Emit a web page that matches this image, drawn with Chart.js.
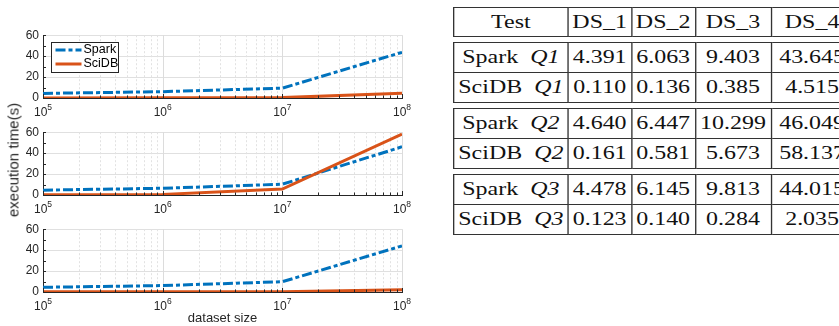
<!DOCTYPE html>
<html>
<head>
<meta charset="utf-8">
<title>Spark vs SciDB - execution time</title>
<script src="https://cdn.jsdelivr.net/npm/chart.js@4.4.0/dist/chart.umd.min.js"></script>
<style>
    body {
        margin: 0;
        width: 839px;
        height: 326px;
        overflow: hidden;
        background: #fff;
        position: relative;
    }
    .panel {
        position: absolute;
        left: 0;
    }
    #ylab {
        position: absolute;
        left: 13px;
        top: 160px;
        transform: translate(-50%, -50%) rotate(-90deg);
        font-family: 'Liberation Sans', Arial, sans-serif;
        font-size: 15px;
        color: #262626;
        white-space: nowrap;
    }
    #tbl {
        position: absolute;
        left: 453px;
        top: 7px;
        transform: scaleX(1.33);
        transform-origin: 0 0;
        font-family: 'Liberation Serif', 'DejaVu Serif', serif;
        font-size: 18px;
        color: #111;
    }
    #tbl table {
        border-collapse: collapse;
        table-layout: fixed;
        width: 300px;
        margin-bottom: 5px;
    }
    #tbl td {
        border: 1px solid #333;
        padding: 0;
        text-align: center;
        white-space: nowrap;
    }
    #tbl tr { height: 30px; }
    #tbl table.head tr { height: 29px; }
</style>
</head>
<body>
    <canvas class="panel" id="q1" width="420" height="100" style="top:24px"></canvas>
    <canvas class="panel" id="q2" width="420" height="100" style="top:121px"></canvas>
    <canvas class="panel" id="q3" width="420" height="108" style="top:218px"></canvas>
    <div id="ylab">execution time(s)</div>
    <div id="tbl"></div>

<script>
    // dataset sizes (x) and execution times in seconds
    var sizes = [1e5, 1e6, 1e7, 1e8];
    var dsLabels = ['DS_1', 'DS_2', 'DS_3', 'DS_4'];
    var queries = ['Q1', 'Q2', 'Q3'];
    var sparkQ1 = [4.391, 6.063, 9.403, 43.645];
    var scidbQ1 = [0.110, 0.136, 0.385, 4.515];
    var sparkQ2 = [4.640, 6.447, 10.299, 46.049];
    var scidbQ2 = [0.161, 0.581, 5.673, 58.137];
    var sparkQ3 = [4.478, 6.145, 9.813, 44.015];
    var scidbQ3 = [0.123, 0.140, 0.284, 2.035];
    var yTicks = [0, 20, 40, 60];
    var decades = [5, 6, 7, 8];

    var AXIS = '#262626';
    var SANS = "'Liberation Sans', Arial, sans-serif";
    Chart.defaults.font.family = SANS;

    // matlab-ish look: dotted minor grid, inward ticks, 10^n labels, boxed legend
    var matlabAxes = {
        id: 'matlab',
        beforeDatasetsDraw: function(chart) {
            var ctx = chart.ctx, a = chart.chartArea, x = chart.scales.x;
            ctx.save();
            ctx.lineWidth = 1;
            for (var e = 5; e < 8; e++) {
                for (var k = 2; k <= 10; k++) {
                    var px = Math.round(x.getPixelForValue(k * Math.pow(10, e))) + 0.5;
                    ctx.strokeStyle = k === 10 ? '#dcdcdc' : '#e2e2e2';
                    ctx.setLineDash(k === 10 ? [] : [2, 2]);
                    ctx.beginPath();
                    ctx.moveTo(px, a.top);
                    ctx.lineTo(px, a.bottom);
                    ctx.stroke();
                }
            }
            ctx.restore();
        },
        afterDraw: function(chart, args, opts) {
            var ctx = chart.ctx, a = chart.chartArea;
            var x = chart.scales.x, y = chart.scales.y;
            ctx.save();
            ctx.strokeStyle = AXIS;
            ctx.lineWidth = 1;
            // y ticks every 10, pointing inward
            for (var v = 0; v <= 60; v += 10) {
                var py = Math.round(y.getPixelForValue(v)) + 0.5;
                ctx.beginPath();
                ctx.moveTo(a.left, py);
                ctx.lineTo(a.left + 3, py);
                ctx.stroke();
            }
            // x ticks
            for (var e = 5; e < 8; e++) {
                for (var k = 1; k <= 10; k++) {
                    var px = Math.round(x.getPixelForValue(k * Math.pow(10, e))) + 0.5;
                    var len = (k === 1 || k === 10) ? 4 : 2.5;
                    ctx.beginPath();
                    ctx.moveTo(px, a.bottom);
                    ctx.lineTo(px, a.bottom - len);
                    ctx.stroke();
                }
            }
            // 10^n labels
            ctx.fillStyle = AXIS;
            ctx.textBaseline = 'alphabetic';
            ctx.textAlign = 'left';
            decades.forEach(function(n) {
                var px = x.getPixelForValue(Math.pow(10, n));
                ctx.font = '12px ' + SANS;
                var w1 = ctx.measureText('10').width;
                ctx.font = '8.5px ' + SANS;
                var w2 = ctx.measureText(String(n)).width;
                var x0 = px - (w1 + w2) / 2;
                ctx.font = '12px ' + SANS;
                ctx.fillText('10', x0, a.bottom + 18);
                ctx.font = '8.5px ' + SANS;
                ctx.fillText(String(n), x0 + w1, a.bottom + 12);
            });
            // legend box
            if (opts.legend) {
                var bx = Math.round(a.left + 8) + 0.5, by = Math.round(a.top + 7) + 0.5;
                ctx.fillStyle = '#fff';
                ctx.fillRect(bx, by, 67, 30);
                ctx.strokeRect(bx, by, 67, 30);
                chart.data.datasets.forEach(function(ds, i) {
                    var ry = by + 7.5 + i * 14;
                    ctx.save();
                    ctx.strokeStyle = ds.borderColor;
                    ctx.lineWidth = ds.borderWidth;
                    ctx.setLineDash(ds.borderDash || []);
                    ctx.beginPath();
                    ctx.moveTo(bx + 4, ry);
                    ctx.lineTo(bx + 30, ry);
                    ctx.stroke();
                    ctx.restore();
                    ctx.fillStyle = '#000';
                    ctx.font = '12.5px ' + SANS;
                    ctx.textBaseline = 'middle';
                    ctx.fillText(ds.label, bx + 32, ry);
                });
            }
            ctx.restore();
        }
    };

    function makePanel(id, spark, scidb, extra) {
        var ctx = document.getElementById(id).getContext('2d');
        var h = ctx.canvas.height;
        var xTitle = extra.xTitle || null;
        return new Chart(ctx, {
            type: 'line',
            data: {
                labels: sizes,
                datasets: [{
                    label: 'Spark',
                    data: sizes.map(function(s, i) { return {x: s, y: spark[i]}; }),
                    borderColor: '#0072BD',
                    borderWidth: 3,
                    borderDash: [10, 3, 4, 3],
                    pointRadius: 0,
                    order: 2
                }, {
                    label: 'SciDB',
                    data: sizes.map(function(s, i) { return {x: s, y: scidb[i]}; }),
                    borderColor: '#D95319',
                    borderWidth: 3,
                    pointRadius: 0,
                    order: 1
                }]
            },
            options: {
                responsive: false,
                animation: false,
                devicePixelRatio: 1,
                layout: { padding: { left: 0, right: 18, top: 7, bottom: 0 } },
                plugins: {
                    legend: { display: false },
                    tooltip: { enabled: false },
                    matlab: { legend: !!extra.legend }
                },
                scales: {
                    x: {
                        type: 'logarithmic',
                        min: sizes[0],
                        max: sizes[sizes.length - 1],
                        ticks: { display: false },
                        grid: { drawOnChartArea: false, drawTicks: false },
                        border: { color: AXIS, width: 1 },
                        title: {
                            display: !!xTitle,
                            text: xTitle || '',
                            color: AXIS,
                            font: { size: 13 },
                            padding: { top: 0, bottom: 0 }
                        },
                        afterFit: function(s) { s.height = h - 7 - 67; }
                    },
                    y: {
                        min: yTicks[0],
                        max: yTicks[yTicks.length - 1],
                        afterBuildTicks: function(s) {
                            s.ticks = yTicks.map(function(v) { return {value: v}; });
                        },
                        ticks: { color: AXIS, font: { size: 12 }, padding: 4 },
                        grid: { color: '#e0e0e0', drawTicks: false },
                        border: { color: AXIS, width: 1 },
                        afterFit: function(s) { s.width = 43; }
                    }
                }
            },
            plugins: [matlabAxes]
        });
    }

    makePanel('q1', sparkQ1, scidbQ1, { legend: true });
    makePanel('q2', sparkQ2, scidbQ2, {});
    makePanel('q3', sparkQ3, scidbQ3, { xTitle: 'dataset size' });

    // table on the right
    var tbl = document.getElementById('tbl');
    var colW = [86, 47.5, 48, 57, 62];
    function box(rows, cls) {
        var t = document.createElement('table');
        if (cls) t.className = cls;
        var cg = document.createElement('colgroup');
        colW.forEach(function(w) {
            var c = document.createElement('col');
            c.style.width = w + 'px';
            cg.appendChild(c);
        });
        t.appendChild(cg);
        rows.forEach(function(r) {
            var tr = t.insertRow();
            r.forEach(function(c) { tr.insertCell().innerHTML = c; });
        });
        tbl.appendChild(t);
    }
    box([['Test'].concat(dsLabels)], 'head');
    var groups = [[sparkQ1, scidbQ1], [sparkQ2, scidbQ2], [sparkQ3, scidbQ3]];
    queries.forEach(function(q, i) {
        box([
            ['Spark&nbsp; <i>' + q + '</i>'].concat(groups[i][0].map(function(v) { return v.toFixed(3); })),
            ['SciDB&nbsp; <i>' + q + '</i>'].concat(groups[i][1].map(function(v) { return v.toFixed(3); }))
        ]);
    });
</script>
</body>
</html>
